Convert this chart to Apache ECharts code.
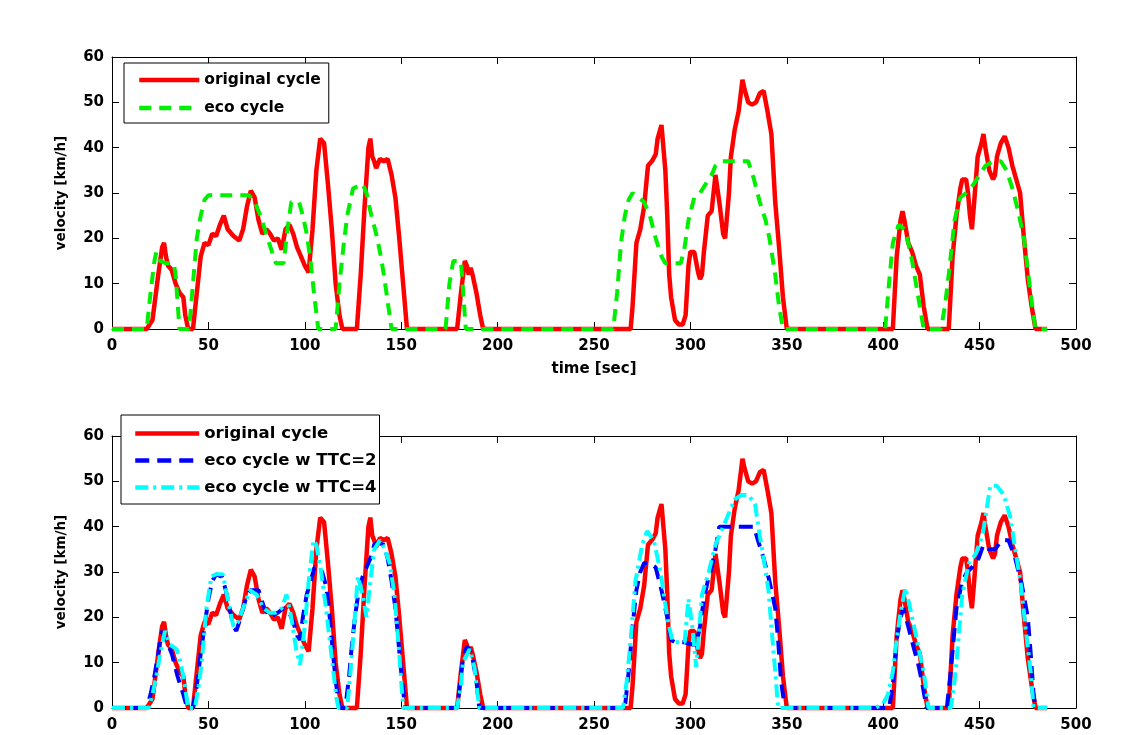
<!DOCTYPE html>
<html>
<head>
<meta charset="utf-8">
<script src="https://cdn.jsdelivr.net/npm/echarts@6/dist/echarts.min.js"></script>
<style>
html,body{margin:0;padding:0;background:#fff;}
#chart{width:1126px;height:735px;}
</style>
</head>
<body>
<div id="chart"></div>
<script>
// ---- data (time in sec, velocity in km/h) ----
const origT = [0,18,21,24,26,27,28,29,31,33,35,37,38,39.5,42,44,46,48,50,52,54,56,58,60,63,66,68,70,72,74,76,78,80,82,84,86,88,90,92,94,96,98,100,102,104,106,108,110,112,114,116,118,119.5,127,129,131,133,134,135,136,137,139,141,143,145,147,149,151,153,179,181,183,184,185,186,187,189,191,192.5,269,270,272,274,276,278,280,282,283,285,286,287,288,289,290,292,294,296,297.5,299,300,302,304,305,306,307,309,311,313,315,317,318,320,321,323,325,327,328,330,332,334,336,338,340,342,344,346,348,350,405,407,409,410,411,413,415,417,419,421,423,434,436,438,440,441,443,444,445,446,447,449,451,452,453,455,457,458,459,461,463,465,467,469,471,473,475,477,479,485];
const origV = [0,0,2,12,18,19,16,14,13,10,8,7,3,0,0,8,16,19,18.5,21,20.5,23,25,22,20.5,19.5,22,27,30.5,29,24,21,22,21,19.5,20,17.5,22,23,21,18,16,14,12.5,22,35,42,41,32,22,10,3,0,0,12,27,40,42,38,37,35.5,37.5,37,37.5,34,29,20,10,0,0,8,15,14,12,13.5,12,8,3,0,0,5,19,22,27,36,37,38.5,42,45,40,35,25,12,7,2,1,1,3,14,17,17,12.5,11,12,17,25,26,34,28,21,20,30,38,44,48,55,53,50,49.5,50,52,52.5,48,43,28,18,7,0,0,16,24,26,24,19,17,14,12,5,0,0,16,25,31,33,33,30,25,22,27,38,41,43,40,35,33,34,38,41,42.5,40,36,33,30,20,11,5,0,0];

const ecoT = [0,18,20,22,23,25,28,32,33,34,35,40,42,44,46,48,50,71,74,77,80,83,85,89,91,93,97,99,101,103,105,107,116,118,120,122,125,130,132,134,137,139,141,143,145,173,175,177,181,182,183.5,260,262,264,266,268,270,273,276,279,282,285,287,295,297,299,302,305,308,311,313,316,330,333,336,339,341,344,346,348,401,403,405,408,411,413,415,417,419,421,430,432,434,437,440,443,447,450,453,457,461,464,467,470,473,475,477,479,485];
const ecoV = [0,0,8,15,17,15,14.5,14.5,12,6,0,0,10,20,25,28.5,29.5,29.5,28,25,21,17,14.5,14.5,22,28,28,25,21,15,7,0,0,10,18,25,31,32,30,26,21,17,12,6,0,0,10,15,15,9,0,0,8,19,25,28.5,30,29,28,25,20,16,14.5,14.5,18,24,29,30,32,34,36,37,37,33,28,24,20,12,5,0,0,10,19,23,22,19,15,10,5,0,0,5,12,24,29,30,32,34,36,37,37,35,31,26,20,13,6,0,0];

const ttc2T = [0,18,20,22,24,25,26,28,31,34,37,39,42,44,46,48,50,52,54,57,59,61,63,64.5,66,68,70,72,76,79,82,86,89,92,94,96,97.5,99,101,103,105,107,109,111,112.5,114,116,118,121,123,124,126,128,130,132,134,136,138,141,143,145,147,148.5,150,152,179,181,182,184,185.5,187,189,190.5,266,268,270,272,274,276,279,282,285,288,290,292,297,301,303,305,307,309,311,313,315,333,335,338,341,344,345.5,347,349,403,405,407,409,410.5,413,416,418,420,422.5,433,435,436.5,438,441,443.5,446,449.5,452,455,458,461.5,465,468.5,472,475,476.5,478,479,485];
const ttc2V = [0,0,3,7,12,15,17,15,12,7,3,0,0,5,12,18,24,28,29.5,29,26,22,18,17,19,22,25,26,26,22,20,21,22,21,19,16,15,20,25,28,31,31,30,27,22,15,6,0,0,7,12,20,26,29,31,33,36,36.5,36,33,28,22,15,8,0,0,7,11,13.5,13,11,6,0,0,8,18,26,30,32,32,31,26,20,15,14.5,14.5,14,14,18,24,28,31,35,40,40,37,33,28,22,15,6,0,0,5,15,20,22,18,13,10,6,0,0,8,15,22,28,30,31,33,36,35,35,37,37,33,27,20,12,3,0,0];

const ttc4T = [0,19,21,23,25,27.5,30,33.5,35,37,39.5,43,45,46.5,49,51.5,54,57.5,60,63,65.5,68,71.5,75,78.5,82,85,88,90.5,93,95.5,97.5,100,102,104.5,106,108.5,111,114,116.5,117.5,122,123.5,125,127.5,130,132,134,136,139,141.5,144,146.5,149,151,179,181,182,185.5,188,190.5,265,267,269,271.5,275,277.5,281,284.5,288,290.5,292,297,299,301,303,306,309.5,313,316,320,323,326.5,330,333.5,336,338,340.5,342,344,345.5,396,400,402.5,405,407,409,411.5,414,417.5,421,423.5,435,436.5,438,441,444.5,448,451.5,453,455.5,459,462.5,466,468.5,471.5,474,476.5,478,485];
const ttc4V = [0,0,3,7,12,17,14,13,11,7,0,0,5,10,22,29,29.5,29.5,24,18,19,22,26,25,22,21,21,22,25,20,13,9.5,18,28,37,36,30,22,11,2,0,0,7,15,29,25,20,28,35,37,35,32,25,12,0,0,5,10,13,9,0,0,6,15,28,36,39,37,30,20,15,14.5,14.5,24,18,9,25,30,36,39,43,46,47,47,45,38,33,26,18,8,0,0,1,3,8,15,21,26.5,22,15,8,0,0,4,10,25,32,34,38,42,49,49,47,42,35,27,17,8,0,0];

// ---- axis ticks ----
const xMin = 0, xMax = 500, xStep = 50;
const yMin = 0, yMax = 60, yStep = 10;
const xLabel = 'time [sec]';
const yLabel = 'velocity [km/h]';

const zip = (t, v) => t.map((x, i) => [x, v[i]]);
const FONT = 'DejaVu Sans';
const labelStyle = {color:'#000', fontFamily:FONT, fontWeight:'bold', fontSize:15};

function xAx(grid, pos, showLabel, name) {
  return {
    type:'value', gridIndex:grid, position:pos, min:xMin, max:xMax, interval:xStep,
    splitLine:{show:false},
    axisLine:{show:true, onZero:false, lineStyle:{color:'#000', width:1}},
    axisTick:{show:true, inside:true, length:7, lineStyle:{color:'#000'}},
    axisLabel: showLabel ? Object.assign({show:true, margin:10}, labelStyle) : {show:false},
    name: name || '', nameLocation:'middle', nameGap:33,
    nameTextStyle: Object.assign({}, labelStyle)
  };
}
function yAx(grid, pos, showLabel, name) {
  return {
    type:'value', gridIndex:grid, position:pos, min:yMin, max:yMax, interval:yStep,
    splitLine:{show:false},
    axisLine:{show:true, onZero:false, lineStyle:{color:'#000', width:1}},
    axisTick:{show:true, inside:true, length:7, lineStyle:{color:'#000'}},
    axisLabel: showLabel ? Object.assign({show:true, margin:8}, labelStyle) : {show:false},
    name: name || '', nameLocation:'middle', nameGap:44, nameRotate:90,
    nameTextStyle: Object.assign({}, labelStyle, {fontSize:13.5})
  };
}

function ser(name, t, v, color, type, width, xi, yi, z) {
  return {
    name, type:'line', xAxisIndex:xi, yAxisIndex:yi, data:zip(t, v),
    symbol:'none', showSymbol:false, clip:false, z:z,
    lineStyle:{color, width, type}, itemStyle:{color},
    emphasis:{disabled:true}
  };
}

const RED = '#ff0000', GREEN = '#00ee00', BLUE = '#0000ff', CYAN = '#00ffff';

const option = {
  animation:false,
  backgroundColor:'#fff',
  grid:[
    {left:112, top:57, width:964, height:272},
    {left:112, top:436, width:964, height:272}
  ],
  xAxis:[
    xAx(0,'bottom',true,xLabel), xAx(0,'top',false),
    xAx(1,'bottom',true), xAx(1,'top',false)
  ],
  yAxis:[
    yAx(0,'left',true,yLabel), yAx(0,'right',false),
    yAx(1,'left',true,yLabel), yAx(1,'right',false)
  ],
  legend:[
    {orient:'vertical', left:124, top:63, itemWidth:60, itemHeight:14, itemGap:12,
     itemStyle:{opacity:0}, lineStyle:{opacity:1, width:4.5},
     padding:[9,8,7,13], borderColor:'#000', borderWidth:1, backgroundColor:'#fff',
     textStyle:Object.assign({}, labelStyle, {fontSize:15.5}), data:['original cycle','eco cycle'], selectedMode:false},
    {orient:'vertical', left:121, top:415, itemWidth:64, itemHeight:14, itemGap:10,
     itemStyle:{opacity:0}, lineStyle:{opacity:1, width:4.5},
     padding:[10,3,8,12], borderColor:'#000', borderWidth:1, backgroundColor:'#fff',
     textStyle:Object.assign({}, labelStyle, {fontSize:16.5}), data:['original cycle','eco cycle w TTC=2','eco cycle w TTC=4'], selectedMode:false}
  ],
  series:[
    ser('original cycle', origT, origV, RED, 'solid', 4.5, 0, 0, 2),
    ser('eco cycle', ecoT, ecoV, GREEN, [12,8], 4, 0, 0, 3),
    ser('original cycle', origT, origV, RED, 'solid', 4.5, 2, 2, 2),
    ser('eco cycle w TTC=2', ttc2T, ttc2V, BLUE, [14,8], 4, 2, 2, 3),
    ser('eco cycle w TTC=4', ttc4T, ttc4V, CYAN, [13,5,3,5], 4, 2, 2, 4)
  ]
};

const chart = echarts.init(document.getElementById('chart'), null, {renderer:'canvas'});
chart.setOption(option);
</script>
</body>
</html>
